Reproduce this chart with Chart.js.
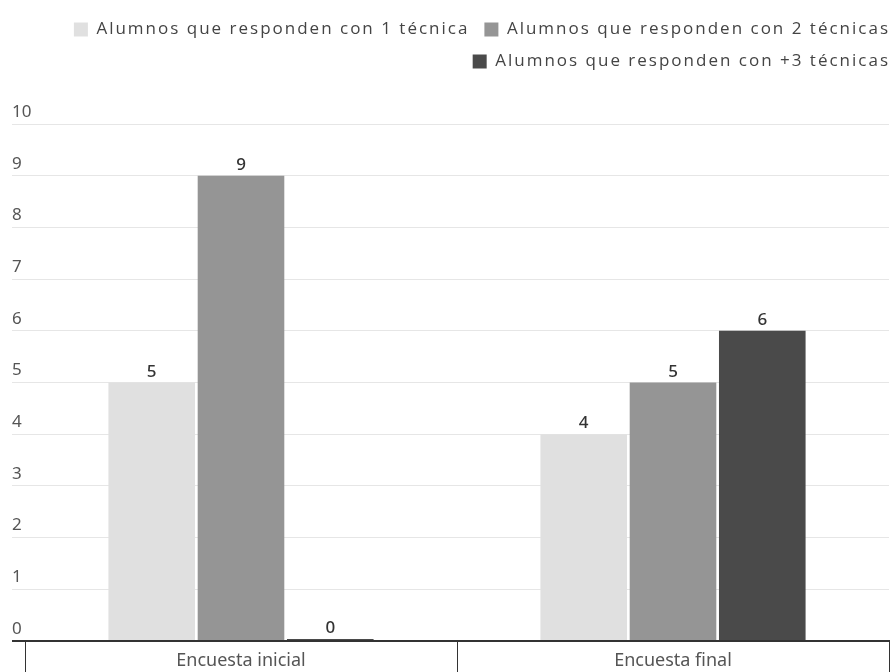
<!DOCTYPE html>
<html>
<head>
<meta charset="utf-8">
<script src="https://cdn.jsdelivr.net/npm/chart.js@4"></script>
<style>
html,body{margin:0;padding:0;background:#fff;}
#wrap{width:895px;height:672px;position:relative;}
</style>
</head>
<body>
<div id="wrap"><canvas id="c"></canvas></div>
<script>
const categories = ["Encuesta inicial", "Encuesta final"];
const seriesNames = ["Alumnos que responden con 1 técnica", "Alumnos que responden con 2 técnicas", "Alumnos que responden con +3 técnicas"];
const serie1 = [5, 4];
const serie2 = [9, 5];
const serie3 = [0, 6];
const colors = ["#e0e0e0", "#959595", "#4a4a4a"];
const yTicks = [0,1,2,3,4,5,6,7,8,9,10];

const LEGEND_SPACING = '2px';

const legendTweaks = {
  id: 'legendTweaks',
  beforeInit(chart) {
    const lg = chart.legend;
    const origFit = lg.fit;
    lg.fit = function() {
      const c = this.ctx;
      c.save();
      c.letterSpacing = LEGEND_SPACING;
      origFit.call(this);
      c.restore();
      this.height += 44;
    };
    const origDraw = lg.draw;
    lg.draw = function(area) {
      const c = this.ctx;
      c.save();
      c.letterSpacing = LEGEND_SPACING;
      c.translate(16, 0);
      origDraw.call(this, area);
      c.restore();
    };
  }
};

const valueLabels = {
  id: 'valueLabels',
  afterDatasetsDraw(chart) {
    const ctx = chart.ctx;
    ctx.save();
    ctx.letterSpacing = '0px';
    ctx.font = '500 17px "Noto Sans", sans-serif';
    ctx.fillStyle = '#333';
    ctx.textAlign = 'center';
    ctx.textBaseline = 'alphabetic';
    chart.data.datasets.forEach((ds, i) => {
      const meta = chart.getDatasetMeta(i);
      meta.data.forEach((bar, j) => {
        ctx.fillText(String(ds.data[j]), bar.x, bar.y - 6);
      });
    });
    ctx.restore();
  }
};

new Chart(document.getElementById('c'), {
  type: 'bar',
  data: {
    labels: categories,
    datasets: [
      { label: seriesNames[0], data: serie1, backgroundColor: colors[0] },
      { label: seriesNames[1], data: serie2, backgroundColor: colors[1] },
      { label: seriesNames[2], data: serie3, backgroundColor: colors[2] }
    ]
  },
  options: {
    responsive: true,
    maintainAspectRatio: false,
    animation: false,
    layout: { padding: { left: 12, right: 6, top: 6, bottom: 0 } },
    datasets: { bar: { categoryPercentage: 0.62, barPercentage: 0.97, borderWidth: 0, minBarLength: 2 } },
    plugins: {
      legend: {
        position: 'top',
        align: 'end',
        labels: {
          boxWidth: 14, boxHeight: 14, padding: 15,
          color: '#444',
          font: { family: '"Open Sans", sans-serif', size: 17 }
        }
      },
      tooltip: { enabled: false }
    },
    scales: {
      x: {
        offset: true,
        grid: {
          offset: true,
          drawOnChartArea: false,
          drawTicks: true,
          tickLength: 31,
          color: '#333',
          lineWidth: 1
        },
        border: { display: true, color: '#333', width: 2 },
        ticks: {
          color: '#555',
          padding: -22,
          font: { family: '"Noto Sans", sans-serif', size: 18 }
        },
        afterFit(scale) { scale.height = 31; }
      },
      y: {
        min: 0, max: 10,
        afterBuildTicks(scale) { scale.ticks = yTicks.map(v => ({ value: v })); },
        grid: {
          drawTicks: true,
          tickLength: 13,
          color: ctx => ctx.tick && ctx.tick.value === 0 ? '#333' : '#e6e6e6',
          lineWidth: ctx => ctx.tick && ctx.tick.value === 0 ? 2 : 1
        },
        border: { display: false },
        ticks: {
          mirror: true,
          crossAlign: 'near',
          padding: -13,
          labelOffset: -12,
          color: '#555',
          font: { family: '"Noto Sans", sans-serif', size: 17 }
        },
        afterFit(scale) { scale.width = 13; }
      }
    }
  },
  plugins: [legendTweaks, valueLabels]
});
</script>
</body>
</html>
